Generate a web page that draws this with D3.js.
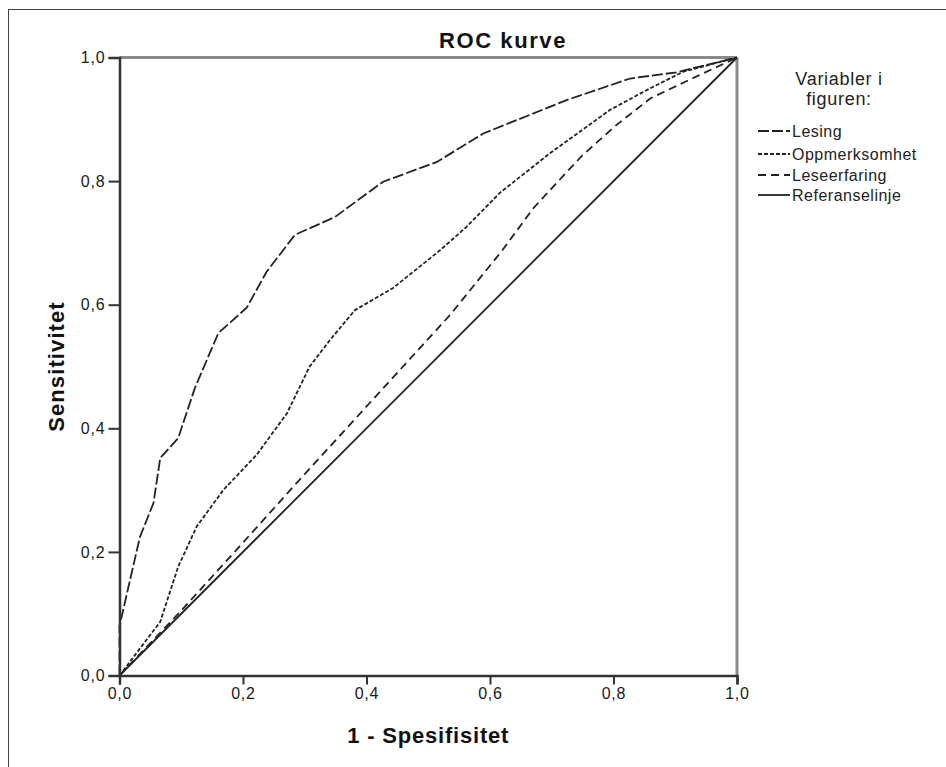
<!DOCTYPE html>
<html>
<head>
<meta charset="utf-8">
<script src="https://cdn.jsdelivr.net/npm/d3@7"></script>
<style>
  body { margin: 0; background: #fff; }
  svg { display: block; font-family: "Liberation Sans", Arial, sans-serif; }
</style>
</head>
<body>
<div id="chart"></div>
<script>
// ROC data (1 - spesifisitet, sensitivitet)
const lesingX = [0, 0, 0.033, 0.055, 0.066, 0.095, 0.122, 0.16, 0.206, 0.238, 0.284, 0.349, 0.427, 0.514, 0.589, 0.724, 0.827, 0.902, 1];
const lesingY = [0, 0.08, 0.224, 0.279, 0.352, 0.384, 0.465, 0.554, 0.595, 0.653, 0.713, 0.742, 0.799, 0.831, 0.877, 0.931, 0.966, 0.976, 1];

const oppmerkX = [0, 0.025, 0.066, 0.095, 0.125, 0.168, 0.222, 0.271, 0.308, 0.341, 0.381, 0.443, 0.519, 0.562, 0.616, 0.697, 0.794, 0.859, 0.913, 1];
const oppmerkY = [0, 0.033, 0.087, 0.176, 0.241, 0.300, 0.357, 0.424, 0.500, 0.543, 0.591, 0.627, 0.688, 0.726, 0.781, 0.845, 0.915, 0.950, 0.977, 1];

const leseerfX = [0, 0.1, 0.2, 0.29, 0.45, 0.535, 0.62, 0.67, 0.72, 0.75, 0.805, 0.86, 0.94, 1];
const leseerfY = [0, 0.105, 0.215, 0.315, 0.49, 0.583, 0.688, 0.756, 0.81, 0.842, 0.891, 0.934, 0.972, 1];

const refX = [0, 1];
const refY = [0, 1];

const seriesNames = ['Lesing', 'Oppmerksomhet', 'Leseerfaring', 'Referanselinje'];
const tickValues = [0, 0.2, 0.4, 0.6, 0.8, 1];
const tickLabels = ['0,0', '0,2', '0,4', '0,6', '0,8', '1,0'];

const W = 946, H = 767;
const margin = { top: 57.5, left: 119.5, right: 946 - 737, bottom: 767 - 675.5 };
const width = W - margin.left - margin.right;
const height = H - margin.top - margin.bottom;

const svg = d3.select('#chart')
  .append('svg')
  .attr('width', W)
  .attr('height', H);

// outer frame (runs off the picture on right and bottom)
svg.append('rect')
  .attr('x', 8.5).attr('y', 9.5)
  .attr('width', 960).attr('height', 780)
  .attr('fill', 'none')
  .attr('stroke', '#444')
  .attr('stroke-width', 1);

const g = svg.append('g')
  .attr('transform', `translate(${margin.left}, ${margin.top})`);

const xScale = d3.scaleLinear().domain([0, 1]).range([0, width]);
const yScale = d3.scaleLinear().domain([0, 1]).range([height, 0]);

// grey top and right border of the plot area
g.append('line')
  .attr('x1', xScale(0)).attr('x2', xScale(1))
  .attr('y1', yScale(1)).attr('y2', yScale(1))
  .attr('stroke', '#8a8a8a').attr('stroke-width', 3);
g.append('line')
  .attr('x1', xScale(1)).attr('x2', xScale(1))
  .attr('y1', yScale(1)).attr('y2', yScale(0))
  .attr('stroke', '#8a8a8a').attr('stroke-width', 3);

const line = d3.line()
  .x(d => xScale(d[0]))
  .y(d => yScale(d[1]));

const series = [
  { name: seriesNames[0], x: lesingX, y: lesingY, dash: '11,3' },
  { name: seriesNames[1], x: oppmerkX, y: oppmerkY, dash: '4,2' },
  { name: seriesNames[2], x: leseerfX, y: leseerfY, dash: '8,5' },
  { name: seriesNames[3], x: refX, y: refY, dash: null }
];

series.forEach(s => {
  g.append('path')
    .datum(s.x.map((v, i) => [v, s.y[i]]))
    .attr('fill', 'none')
    .attr('stroke', '#222')
    .attr('stroke-width', 1.8)
    .attr('stroke-dasharray', s.dash)
    .attr('d', line);
});

// axes
const xAxis = d3.axisBottom(xScale)
  .tickValues(tickValues)
  .tickFormat((d, i) => tickLabels[i])
  .tickSizeOuter(0)
  .tickSize(9)
  .tickPadding(3);
const yAxis = d3.axisLeft(yScale)
  .tickValues(tickValues)
  .tickFormat((d, i) => tickLabels[i])
  .tickSizeOuter(0)
  .tickSize(11)
  .tickPadding(3);

const gx = g.append('g')
  .attr('transform', `translate(0, ${height})`)
  .call(xAxis);
const gy = g.append('g').call(yAxis);

[gx, gy].forEach(a => {
  a.attr('font-size', null).attr('font-family', null);
  a.select('.domain').attr('stroke', '#333').attr('stroke-width', 2.5);
  a.selectAll('.tick line').attr('stroke', '#333').attr('stroke-width', 2);
  a.selectAll('.tick text')
    .attr('fill', '#1a1a1a')
    .style('font-size', '16px')
    .style('letter-spacing', '0.8px')
    .style('font-family', '"Liberation Sans", Arial, sans-serif');
});

// titles
svg.append('text')
  .attr('x', 503).attr('y', 48)
  .attr('text-anchor', 'middle')
  .attr('font-size', '22px')
  .attr('font-weight', 'bold')
  .attr('letter-spacing', '1.6px')
  .attr('fill', '#111')
  .text('ROC kurve');

svg.append('text')
  .attr('x', margin.left + width / 2).attr('y', 743)
  .attr('text-anchor', 'middle')
  .attr('font-size', '22px')
  .attr('font-weight', 'bold')
  .attr('letter-spacing', '0.8px')
  .attr('fill', '#111')
  .text('1 - Spesifisitet');

svg.append('text')
  .attr('transform', `translate(64, ${margin.top + height / 2}) rotate(-90)`)
  .attr('text-anchor', 'middle')
  .attr('font-size', '22px')
  .attr('font-weight', 'bold')
  .attr('letter-spacing', '1.1px')
  .attr('fill', '#111')
  .text('Sensitivitet');

// legend
const legend = svg.append('g');
legend.append('text')
  .attr('x', 839).attr('y', 85)
  .attr('text-anchor', 'middle')
  .attr('font-size', '18px')
  .attr('letter-spacing', '0.7px')
  .attr('fill', '#222')
  .text('Variabler i');
legend.append('text')
  .attr('x', 839).attr('y', 105)
  .attr('text-anchor', 'middle')
  .attr('font-size', '18px')
  .attr('letter-spacing', '0.7px')
  .attr('fill', '#222')
  .text('figuren:');

const legendY = [131, 154, 175, 195];
series.forEach((s, i) => {
  legend.append('line')
    .attr('x1', 758).attr('x2', 790)
    .attr('y1', legendY[i]).attr('y2', legendY[i])
    .attr('stroke', '#222')
    .attr('stroke-width', 1.8)
    .attr('stroke-dasharray', s.dash);
  legend.append('text')
    .attr('x', 792).attr('y', legendY[i] + 6)
    .attr('font-size', '16px')
    .attr('letter-spacing', '0.5px')
    .attr('fill', '#222')
    .text(s.name);
});
</script>
</body>
</html>
